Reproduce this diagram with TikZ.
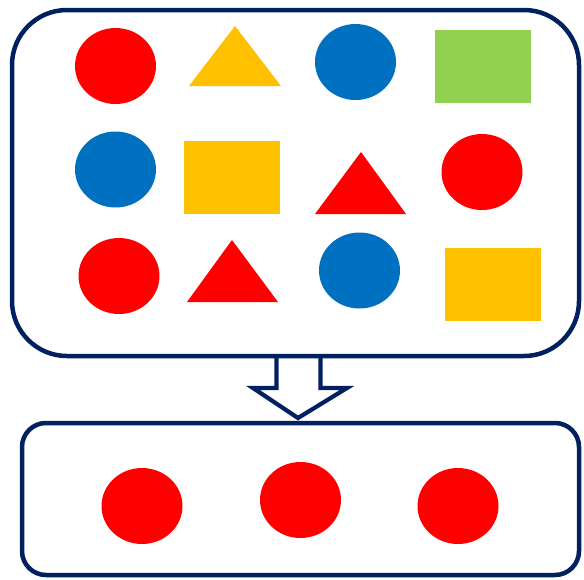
\documentclass[tikz,border=0pt]{standalone}
\usetikzlibrary{shapes.geometric}
\definecolor{navy}{HTML}{002060}
\definecolor{cred}{HTML}{FF0000}
\definecolor{cyel}{HTML}{FFC000}
\definecolor{cblue}{HTML}{0070C0}
\definecolor{cgreen}{HTML}{92D050}
\tikzset{
  frame/.style={draw=navy, line width=4.5pt, fill=white},
  dot/.style={ellipse, inner sep=0pt, minimum width=81pt, minimum height=76pt},
  blk/.style={rectangle, inner sep=0pt, minimum width=96pt, minimum height=73pt},
  arrowshape/.style={draw=navy, line width=4.2pt, fill=white, line join=miter},
}
\begin{document}
\begin{tikzpicture}[x=1pt,y=-1pt]
\useasboundingbox (0,0) rectangle (584,579);
% arrow (drawn first so the frame line runs across its top)
\draw[arrowshape] (276.5,350) -- (276.5,388) -- (253,388) -- (298,418) -- (347,388) -- (320.5,388) -- (320.5,350);
% frames
\draw[frame, rounded corners=55pt] (12,10) rectangle (579,356);
\draw[frame, rounded corners=24pt] (22,423) rectangle (579,575);
% row 1
\node[dot, fill=cred] (r1a) at (115.5,66) {};
\fill[cyel] (235,26) -- (281,86) -- (189,86) -- cycle;
\node[dot, fill=cblue] (r1c) at (355.5,62) {};
\node[blk, fill=cgreen] (r1d) at (483,66.5) {};
% row 2
\node[dot, fill=cblue] (r2a) at (115.5,169.5) {};
\node[blk, fill=cyel] (r2b) at (232,177.5) {};
\fill[cred] (361,152) -- (406,214) -- (315,214) -- cycle;
\node[dot, fill=cred] (r2d) at (482,172) {};
% row 3
\node[dot, fill=cred] (r3a) at (119,276) {};
\fill[cred] (232,240) -- (278,302) -- (187,302) -- cycle;
\node[dot, fill=cblue] (r3c) at (359.5,270.5) {};
\node[blk, fill=cyel] (r3d) at (493,284) {};
% bottom
\node[dot, fill=cred] (b1) at (142,506) {};
\node[dot, fill=cred] (b2) at (300.5,500) {};
\node[dot, fill=cred] (b3) at (458,506) {};
\end{tikzpicture}
\end{document}
